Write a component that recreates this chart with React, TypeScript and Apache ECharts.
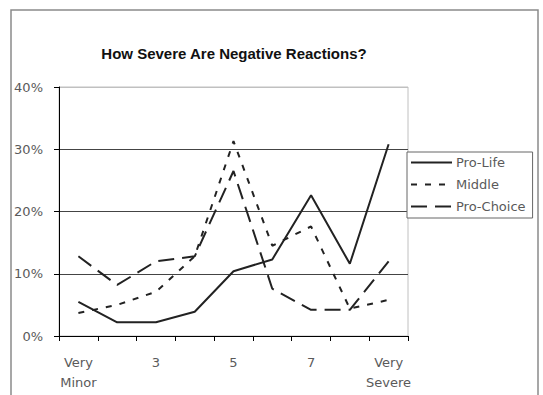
import React, { useEffect, useRef } from "react";
import * as echarts from "echarts";

const categories = ["Very\nMinor", "2", "3", "4", "5", "6", "7", "8", "Very\nSevere"];
const proLife = [5.5, 2.2, 2.2, 3.9, 10.4, 12.3, 22.6, 11.6, 30.8];
const middle = [3.7, 5.0, 7.1, 12.8, 31.3, 14.5, 17.6, 4.4, 5.8];
const proChoice = [12.8, 8.2, 12.0, 12.8, 26.5, 7.6, 4.2, 4.2, 12.0];
const yTicks = [0, 10, 20, 30, 40];

export default function App() {
  const ref = useRef<HTMLDivElement>(null);
  useEffect(() => {
    if (!ref.current) return;
    const chart = echarts.init(ref.current, null, { renderer: "svg" });
    const labelFont = { fontFamily: "DejaVu Sans", fontSize: 13, color: "#5a5a5a" };
    chart.setOption({
      animation: false,
      backgroundColor: "#fff",
      title: {
        text: "How Severe Are Negative Reactions?",
        left: 229,
        textAlign: "center",
        top: 41,
        textStyle: { fontFamily: "Liberation Sans", fontWeight: "bold", fontSize: 15, color: "#111" },
      },
      graphic: [
        {
          type: "rect",
          shape: { x: 11, y: 10, width: 527, height: 400 },
          style: { fill: "none", stroke: "#8a8a8a", lineWidth: 1.5 },
          silent: true,
        },
      ],
      grid: {
        left: 59,
        top: 87,
        right: 135,
        bottom: 59,
        show: true,
        borderColor: "#c0c0c0",
        borderWidth: 1,
      },
      legend: {
        orient: "vertical",
        left: 407,
        top: 152,
        itemWidth: 41,
        itemHeight: 14,
        itemGap: 9,
        padding: [4, 7, 5, 3],
        backgroundColor: "#fff",
        borderColor: "#666",
        borderWidth: 1,
        borderRadius: 0,
        itemStyle: { opacity: 0 },
        textStyle: { ...labelFont, padding: [0, 0, 0, -1] },
        data: ["Pro-Life", "Middle", "Pro-Choice"],
      },
      xAxis: {
        type: "category",
        data: categories,
        boundaryGap: true,
        axisLine: { lineStyle: { color: "#000", width: 1 } },
        axisTick: { show: true, interval: 0, length: 5, lineStyle: { color: "#000" } },
        axisLabel: { ...labelFont, interval: 1, lineHeight: 20, margin: 16 },
        splitLine: { show: false },
      },
      yAxis: {
        type: "value",
        min: yTicks[0],
        max: yTicks[yTicks.length - 1],
        interval: 10,
        axisLine: { show: true, lineStyle: { color: "#000", width: 1 } },
        axisTick: { show: true, length: 5, lineStyle: { color: "#000" } },
        axisLabel: { ...labelFont, margin: 16, formatter: "{value}%" },
        splitLine: {
          show: true,
          lineStyle: { color: ["#000", "#444", "#444", "#444", "#c0c0c0"], width: 1 },
        },
      },
      series: [
        {
          name: "Pro-Life",
          type: "line",
          data: proLife,
          symbol: "none",
          lineStyle: { color: "#222", width: 2, type: "solid" },
          itemStyle: { color: "#222" },
        },
        {
          name: "Middle",
          type: "line",
          data: middle,
          symbol: "none",
          lineStyle: { color: "#222", width: 2, type: [6, 8] },
          itemStyle: { color: "#222" },
        },
        {
          name: "Pro-Choice",
          type: "line",
          data: proChoice,
          symbol: "none",
          lineStyle: { color: "#222", width: 2, type: [16, 8] },
          itemStyle: { color: "#222" },
        },
      ],
    });
    return () => chart.dispose();
  }, []);
  return (
    <div
      ref={ref}
      style={{ position: "fixed", left: 0, top: 0, width: 543, height: 395 }}
    />
  );
}
